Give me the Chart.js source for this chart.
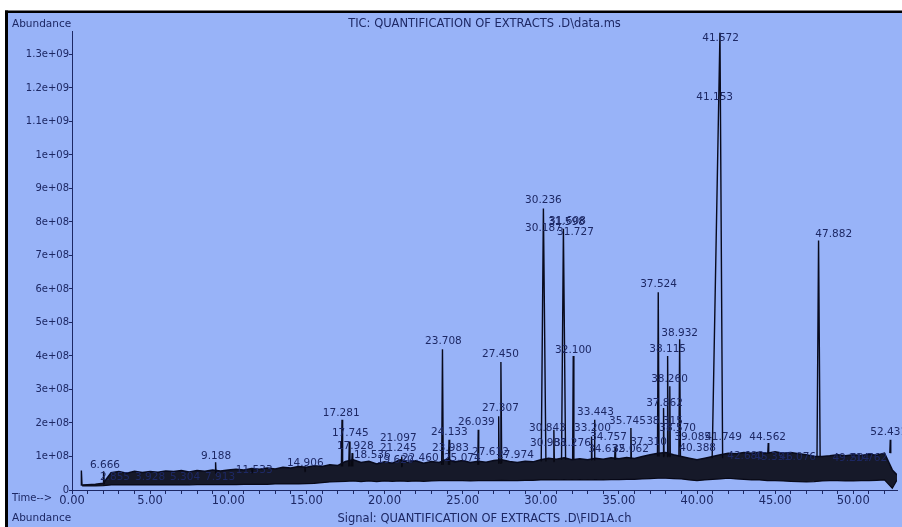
<!DOCTYPE html>
<html>
  <head>
    <meta charset="utf-8">
    <style type="text/css">
    html, body { margin: 0; padding: 0; background: #fff; }
    .chart-container { width: 902px; height: 527px; }
    </style>
  </head>
  <body>
    <script src="https://cdn.jsdelivr.net/npm/chart.js@4.4.1/dist/chart.umd.min.js"></script>

    <div class="chart-container">
      <canvas id="tic" width="902" height="527"></canvas>
    </div>

    <script>
      /* axis ticks */
      const xTickValues = [0, 1, 2, 3, 4, 5, 6, 7, 8, 9, 10, 11, 12, 13, 14, 15, 16, 17, 18, 19, 20, 21, 22, 23, 24, 25, 26,
        27, 28, 29, 30, 31, 32, 33, 34, 35, 36, 37, 38, 39, 40, 41, 42, 43, 44, 45, 46, 47, 48, 49, 50, 51, 52];
      const yTickValues = [0, 1e8, 2e8, 3e8, 4e8, 5e8, 6e8, 7e8, 8e8, 9e8, 1e9, 1.1e9, 1.2e9, 1.3e9];
      const yTickLabels = ['0', '1e+08', '2e+08', '3e+08', '4e+08', '5e+08', '6e+08', '7e+08', '8e+08', '9e+08',
        '1e+09', '1.1e+09', '1.2e+09', '1.3e+09'];

      /* baseline band (noise envelope) of the TIC, abundance counts */
      const bandTimes = [0.65, 1.0, 1.5, 2.0, 2.5, 3.0, 3.5, 4.0, 4.5, 5.0, 5.5, 6.0, 6.5, 7.0, 7.5, 8.0, 8.5, 9.0, 9.5, 10.0,
        10.5, 11.0, 11.5, 12.0, 12.5, 13.0, 13.5, 14.0, 14.5, 15.0, 15.5, 16.0, 16.5, 17.0, 17.5, 18.0, 18.5, 19.0, 19.5, 20.0,
        20.5, 21.0, 21.5, 22.0, 22.5, 23.0, 23.5, 24.0, 24.5, 25.0, 25.5, 26.0, 26.5, 27.0, 27.5, 28.0, 28.5, 29.0, 29.5, 30.0,
        30.5, 31.0, 31.5, 32.0, 32.5, 33.0, 33.5, 34.0, 34.5, 35.0, 35.5, 36.0, 36.5, 37.0, 37.5, 38.0, 38.5, 39.0, 39.5, 40.0,
        40.5, 41.0, 41.5, 42.0, 42.5, 43.0, 43.5, 44.0, 44.5, 45.0, 45.5, 46.0, 46.5, 47.0, 47.5, 48.0, 48.5, 49.0, 49.5, 50.0,
        50.5, 51.0, 51.5, 52.0, 52.5, 52.8];
      const bandUpper = [0.15e8, 0.16e8, 0.17e8, 0.2e8, 0.52e8, 0.55e8, 0.5e8, 0.56e8, 0.52e8, 0.55e8, 0.53e8, 0.57e8, 0.55e8, 0.58e8, 0.54e8, 0.58e8, 0.56e8, 0.6e8, 0.57e8, 0.6e8,
        0.62e8, 0.6e8, 0.64e8, 0.62e8, 0.66e8, 0.63e8, 0.68e8, 0.66e8, 0.7e8, 0.68e8, 0.72e8, 0.7e8, 0.75e8, 0.73e8, 0.85e8, 0.9e8, 0.82e8, 0.86e8, 0.78e8, 0.84e8,
        0.8e8, 0.9e8, 0.82e8, 0.87e8, 0.8e8, 0.85e8, 0.82e8, 0.92e8, 0.84e8, 0.88e8, 0.82e8, 0.86e8, 0.83e8, 0.88e8, 0.9e8, 0.85e8, 0.82e8, 0.86e8, 0.84e8, 0.9e8,
        0.95e8, 0.92e8, 0.96e8, 0.9e8, 0.93e8, 0.9e8, 0.95e8, 0.92e8, 0.96e8, 0.93e8, 0.97e8, 0.94e8, 1.0e8, 1.05e8, 1.1e8, 1.12e8, 1.05e8, 1.0e8, 0.95e8, 0.9e8,
        0.95e8, 1.0e8, 1.05e8, 1.1e8, 1.08e8, 1.12e8, 1.1e8, 1.13e8, 1.1e8, 1.14e8, 1.1e8, 1.12e8, 1.08e8, 1.05e8, 1.0e8, 1.0e8, 1.02e8, 1.05e8, 1.02e8, 1.05e8,
        1.03e8, 1.07e8, 1.04e8, 1.1e8, 0.6e8, 0.45e8];
      const bandLower = [0.12e8, 0.12e8, 0.12e8, 0.13e8, 0.15e8, 0.15e8, 0.15e8, 0.15e8, 0.15e8, 0.15e8, 0.15e8, 0.15e8, 0.15e8, 0.15e8, 0.15e8, 0.16e8, 0.16e8, 0.16e8, 0.16e8, 0.16e8,
        0.16e8, 0.17e8, 0.17e8, 0.17e8, 0.17e8, 0.18e8, 0.18e8, 0.18e8, 0.18e8, 0.19e8, 0.2e8, 0.22e8, 0.24e8, 0.25e8, 0.26e8, 0.27e8, 0.25e8, 0.27e8, 0.25e8, 0.27e8,
        0.26e8, 0.27e8, 0.26e8, 0.27e8, 0.26e8, 0.27e8, 0.28e8, 0.28e8, 0.28e8, 0.28e8, 0.27e8, 0.28e8, 0.28e8, 0.28e8, 0.29e8, 0.28e8, 0.28e8, 0.29e8, 0.29e8, 0.3e8,
        0.3e8, 0.3e8, 0.31e8, 0.3e8, 0.31e8, 0.3e8, 0.31e8, 0.3e8, 0.31e8, 0.31e8, 0.32e8, 0.32e8, 0.33e8, 0.34e8, 0.35e8, 0.35e8, 0.34e8, 0.33e8, 0.3e8, 0.28e8,
        0.3e8, 0.32e8, 0.33e8, 0.35e8, 0.33e8, 0.32e8, 0.3e8, 0.3e8, 0.28e8, 0.28e8, 0.27e8, 0.26e8, 0.25e8, 0.24e8, 0.25e8, 0.27e8, 0.28e8, 0.28e8, 0.27e8, 0.27e8,
        0.28e8, 0.28e8, 0.29e8, 0.3e8, 0.05e8, 0.3e8];

      /* peaks: apex time (min), apex abundance, foot abundance, rise / fall widths (min) */
      const peakTimes   = [0.60, 2.02, 9.19, 11.53, 14.91, 17.28, 17.75, 17.93, 21.10, 23.71, 24.13, 26.00, 27.31, 27.45, 30.17, 30.84,
        31.45, 32.08, 33.25, 33.44, 34.76, 35.77, 37.52, 37.86, 38.12, 38.26, 38.89, 41.47, 44.56, 47.78, 52.37];
      const peakHeights = [0.58e8, 0.56e8, 0.83e8, 0.64e8, 0.7e8, 2.1e8, 1.45e8, 1.1e8, 1.0e8, 4.2e8, 1.5e8, 1.8e8, 2.2e8, 3.82e8, 8.4e8, 1.8e8,
        7.8e8, 4.0e8, 1.6e8, 2.1e8, 1.3e8, 1.85e8, 5.9e8, 2.45e8, 4.0e8, 3.1e8, 4.5e8, 13.65e8, 1.4e8, 7.45e8, 1.5e8];
      const peakFeet    = [0.13e8, 0.18e8, 0.5e8, 0.5e8, 0.55e8, 0.7e8, 0.7e8, 0.7e8, 0.7e8, 0.75e8, 0.75e8, 0.75e8, 0.8e8, 0.8e8, 0.85e8, 0.85e8,
        0.9e8, 0.9e8, 0.9e8, 0.9e8, 0.9e8, 0.95e8, 1.0e8, 1.0e8, 1.0e8, 1.0e8, 1.0e8, 0.95e8, 1.1e8, 1.0e8, 1.1e8];
      const peakRise    = [0, 0.02, 0.03, 0.03, 0.03, 0.04, 0.04, 0.04, 0.04, 0.05, 0.04, 0.03, 0.03, 0.05, 0.14, 0.03,
        0.12, 0.04, 0.03, 0.03, 0.03, 0.03, 0.05, 0.03, 0.04, 0.03, 0.05, 0.5, 0.03, 0.1, 0.03];
      const peakFall    = [0.04, 0.05, 0.03, 0.03, 0.03, 0.04, 0.04, 0.04, 0.04, 0.05, 0.04, 0.03, 0.03, 0.05, 0.16, 0.03,
        0.14, 0.04, 0.03, 0.03, 0.03, 0.03, 0.05, 0.03, 0.04, 0.03, 0.05, 0.17, 0.03, 0.1, 0.03];

      /* retention time labels and where they sit (time, abundance) */
      const labelTexts = ['2.855', '3.928', '5.304', '7.913', '6.666', '9.188', '11.533', '14.906', '17.281', '17.745', '17.928',
        '18.536', '19.620', '21.097', '21.245', '22.460', '23.708', '24.133', '23.983', '25.074', '26.039', '27.450', '27.307',
        '27.612', '27.974', '30.187', '30.236', '31.727', '31.598', '31.608', '32.100', '33.443', '30.843', '33.200', '30.985',
        '31.276', '34.757', '34.632', '35.062', '35.745', '38.315', '37.524', '38.932', '38.115', '38.260', '37.862', '37.310',
        '38.570', '39.085', '40.388', '41.153', '41.572', '41.749', '42.680', '44.562', '45.351', '46.076', '47.882', '49.214',
        '50.762', '52.431'];
      const labelTimes = [2.75, 5.0, 7.24, 9.48, 2.11, 9.22, 11.66, 14.93, 17.23, 17.81, 18.13,
        19.22, 20.69, 20.88, 20.88, 22.29, 23.77, 24.15, 24.22, 24.98, 25.88, 27.42, 27.42,
        26.78, 28.38, 30.17, 30.17, 32.22, 31.65, 31.71, 32.09, 33.5, 30.43, 33.31, 30.49,
        32.03, 34.34, 34.21, 35.75, 35.55, 37.92, 37.54, 38.89, 38.12, 38.24, 37.92, 36.9,
        38.76, 39.72, 40.04, 41.13, 41.51, 41.7, 43.11, 44.52, 44.84, 46.44, 48.75, 49.84,
        50.99, 52.27];
      const labelValues = [0.39e8, 0.39e8, 0.39e8, 0.39e8, 0.75e8, 1.01e8, 0.6e8, 0.81e8, 2.3e8, 1.7e8, 1.31e8,
        1.04e8, 0.9e8, 1.55e8, 1.25e8, 0.96e8, 4.45e8, 1.73e8, 1.25e8, 0.96e8, 2.03e8, 4.06e8, 2.45e8,
        1.13e8, 1.04e8, 7.82e8, 8.66e8, 7.7e8, 8.0e8, 8.03e8, 4.18e8, 2.33e8, 1.85e8, 1.85e8, 1.4e8,
        1.4e8, 1.58e8, 1.22e8, 1.22e8, 2.06e8, 2.06e8, 6.15e8, 4.69e8, 4.21e8, 3.31e8, 2.6e8, 1.43e8,
        1.85e8, 1.58e8, 1.25e8, 11.73e8, 13.49e8, 1.58e8, 1.01e8, 1.58e8, 0.99e8, 0.99e8, 7.64e8, 0.96e8,
        0.96e8, 1.73e8];

      const bg = '#98b3f8';
      const ink = '#1d2864';
      const trace = '#080a1c';

      /* peak outlines, one gap between each peak */
      const peakPoints = [];
      peakTimes.forEach((t, i) => {
        peakPoints.push({x: t - peakRise[i], y: peakFeet[i]});
        peakPoints.push({x: t, y: peakHeights[i]});
        peakPoints.push({x: t + peakFall[i], y: peakFeet[i]});
        peakPoints.push({x: t + peakFall[i], y: null});
      });

      const framePlugin = {
        id: 'frame',
        beforeDraw(chart) {
          const ctx = chart.ctx;
          ctx.save();
          ctx.fillStyle = '#ffffff';
          ctx.fillRect(0, 0, chart.width, chart.height);
          ctx.fillStyle = bg;
          ctx.fillRect(8, 13, chart.width - 8, chart.height - 13);
          ctx.fillStyle = '#000000';
          ctx.fillRect(5, 10.5, chart.width - 5, 2.5);
          ctx.fillRect(5, 10.5, 3, chart.height);
          ctx.restore();
        },
        afterDraw(chart) {
          const ctx = chart.ctx;
          const area = chart.chartArea;
          const mid = (area.left + area.right) / 2;
          ctx.save();
          ctx.fillStyle = ink;
          ctx.textBaseline = 'middle';
          ctx.font = '11.5px "DejaVu Sans"';
          ctx.textAlign = 'center';
          ctx.fillText('TIC: QUANTIFICATION OF EXTRACTS .D\\data.ms', mid, 24);
          ctx.fillText('Signal: QUANTIFICATION OF EXTRACTS .D\\FID1A.ch', mid, 519);
          ctx.textAlign = 'left';
          ctx.font = '10.5px "DejaVu Sans"';
          ctx.fillText('Abundance', 12, 24);
          ctx.fillText('Abundance', 12, 518);
          ctx.font = '10px "DejaVu Sans"';
          ctx.fillText('Time-->', 12, 498);
          ctx.restore();
        }
      };

      const labelPlugin = {
        id: 'peakLabels',
        afterDatasetsDraw(chart) {
          const ctx = chart.ctx;
          const xs = chart.scales.x, ys = chart.scales.y;
          ctx.save();
          ctx.font = '10.5px "DejaVu Sans"';
          ctx.fillStyle = ink;
          ctx.textAlign = 'center';
          ctx.textBaseline = 'middle';
          labelTexts.forEach((txt, i) => {
            ctx.fillText(txt, xs.getPixelForValue(labelTimes[i]), ys.getPixelForValue(labelValues[i]));
          });
          ctx.restore();
        }
      };

      const ticChart = new Chart('tic', {
        type: 'line',
        data: {
          datasets: [
            {
              label: 'band top',
              data: bandTimes.map((t, i) => ({x: t, y: bandUpper[i]})),
              borderColor: trace,
              borderWidth: 1.5,
              backgroundColor: 'rgba(8, 8, 18, 0.9)',
              fill: '+1',
              pointRadius: 0
            },
            {
              label: 'band bottom',
              data: bandTimes.map((t, i) => ({x: t, y: bandLower[i]})),
              borderColor: trace,
              borderWidth: 1.2,
              fill: false,
              pointRadius: 0
            },
            {
              label: 'peaks',
              data: peakPoints,
              borderColor: trace,
              borderWidth: 1.4,
              fill: false,
              spanGaps: false,
              pointRadius: 0
            }
          ]
        },
        options: {
          responsive: false,
          animation: false,
          layout: { padding: { top: 31, right: 5, left: 0, bottom: 0 } },
          plugins: {
            legend: { display: false },
            tooltip: { enabled: false }
          },
          scales: {
            x: {
              type: 'linear',
              min: 0,
              max: 52.8,
              afterFit: (scale) => { scale.height = 37; },
              afterBuildTicks: (scale) => { scale.ticks = xTickValues.map(v => ({value: v})); },
              border: { color: ink, width: 1 },
              grid: { drawOnChartArea: false, drawTicks: true, tickLength: 4, color: ink },
              ticks: {
                autoSkip: false,
                maxRotation: 0,
                padding: 0,
                color: ink,
                font: { family: 'DejaVu Sans', size: 11.5 },
                callback: (v) => (v % 5 === 0 ? v.toFixed(2) : '')
              }
            },
            y: {
              min: 0,
              max: 1.37e9,
              afterFit: (scale) => { scale.width = 72; },
              afterBuildTicks: (scale) => { scale.ticks = yTickValues.map(v => ({value: v})); },
              border: { color: ink, width: 1 },
              grid: { drawOnChartArea: false, drawTicks: true, tickLength: 3, color: ink },
              ticks: {
                autoSkip: false,
                padding: 0,
                color: ink,
                font: { family: 'DejaVu Sans', size: 10 },
                callback: (v, i) => yTickLabels[i]
              }
            }
          }
        },
        plugins: [framePlugin, labelPlugin]
      });
    </script>
  </body>
</html>
